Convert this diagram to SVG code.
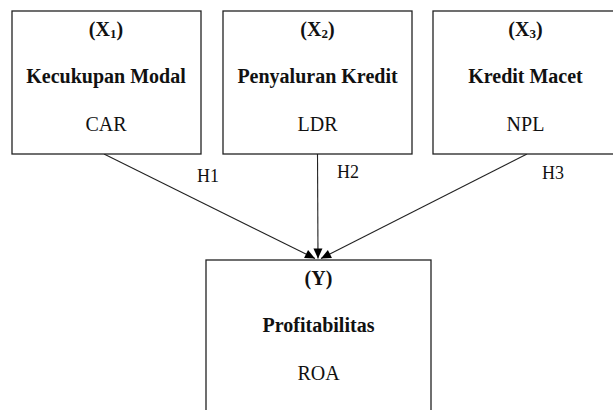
<svg xmlns="http://www.w3.org/2000/svg" width="613" height="410" viewBox="0 0 613 410">
<style>
.box{fill:#fff;stroke:#222;stroke-width:1.3}
.t{font-family:"Liberation Serif","Times New Roman",serif;font-size:20px;fill:#111;text-anchor:middle}
.b{font-weight:bold}
.h{font-family:"Liberation Serif","Times New Roman",serif;font-size:18px;fill:#111}
.ln{stroke:#222;stroke-width:1.1;fill:none}
</style>
<defs>
<marker id="ah" markerUnits="userSpaceOnUse" markerWidth="12" markerHeight="12" viewBox="0 0 12 12" refX="11" refY="6" orient="auto">
<path d="M1,1.5 L11,6 L1,10.5 Z" fill="#000"/>
</marker>
</defs>
<rect width="613" height="410" fill="#fff"/>
<g id="connectors">
<line class="ln" x1="104" y1="154" x2="315" y2="258.5" marker-end="url(#ah)"/>
<line class="ln" x1="317.5" y1="153" x2="318" y2="258.5" marker-end="url(#ah)"/>
<line class="ln" x1="527" y1="154" x2="321" y2="258.5" marker-end="url(#ah)"/>
<text class="h" x="197" y="182">H1</text>
<text class="h" x="337" y="178">H2</text>
<text class="h" x="542" y="179">H3</text>
</g>
<g id="x1">
<rect class="box" x="12" y="11" width="189" height="143"/>
<text class="t b" x="106" y="36">(X<tspan font-size="13" dy="2">1</tspan><tspan dy="-2">)</tspan></text>
<text class="t b" x="106" y="83">Kecukupan Modal</text>
<text class="t" x="106" y="131">CAR</text>
</g>
<g id="x2">
<rect class="box" x="223" y="11" width="189" height="143"/>
<text class="t b" x="317.5" y="36">(X<tspan font-size="13" dy="2">2</tspan><tspan dy="-2">)</tspan></text>
<text class="t b" x="317.5" y="83">Penyaluran Kredit</text>
<text class="t" x="317.5" y="131">LDR</text>
</g>
<g id="x3">
<rect class="box" x="433" y="11" width="189" height="143"/>
<text class="t b" x="525.5" y="36">(X<tspan font-size="13" dy="2">3</tspan><tspan dy="-2">)</tspan></text>
<text class="t b" x="525.5" y="83">Kredit Macet</text>
<text class="t" x="525.5" y="131">NPL</text>
</g>
<g id="y">
<rect class="box" x="206" y="260" width="225" height="160"/>
<text class="t b" x="318.5" y="285">(Y)</text>
<text class="t b" x="318.5" y="332">Profitabilitas</text>
<text class="t" x="318.5" y="380">ROA</text>
</g>
</svg>
